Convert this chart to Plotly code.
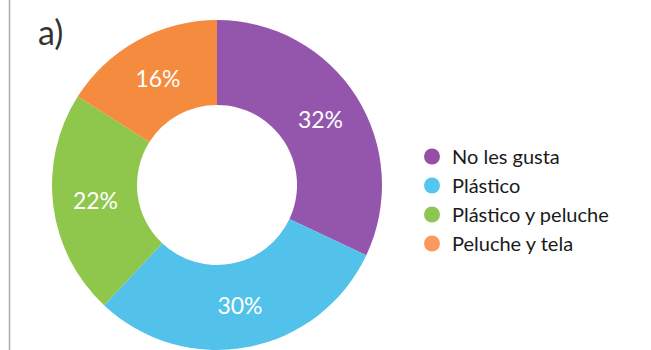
import plotly.graph_objects as go

categories = ["No les gusta", "Plástico", "Plástico y peluche", "Peluche y tela"]
values = [32, 30, 22, 16]
slice_colors = ["#9455ad", "#52c2ea", "#8fc74d", "#f58b3e"]
legend_colors = ["#9550a6", "#55c6ee", "#8dc653", "#f99a5c"]
panel_label = "a)"

FONT = "Lato, 'Open Sans', sans-serif"

fig = go.Figure()
fig.add_trace(go.Pie(
    labels=categories,
    values=values,
    hole=0.485,
    sort=False,
    direction="clockwise",
    rotation=0,
    marker=dict(colors=slice_colors, line=dict(width=0)),
    texttemplate="%{percent:.0%}",
    textposition="inside",
    insidetextorientation="horizontal",
    textfont=dict(color="white", size=23, family=FONT),
    showlegend=False,
    domain=dict(x=[52/651, 382/651], y=[0, 330/350]),
    hoverinfo="label+percent",
))

for name, col in zip(categories, legend_colors):
    fig.add_trace(go.Scatter(
        x=[None], y=[None], mode="markers", name=name,
        marker=dict(color=col, size=18, symbol="circle"),
        showlegend=True,
    ))

fig.update_layout(
    width=651, height=350,
    margin=dict(l=0, r=0, t=0, b=0),
    paper_bgcolor="white", plot_bgcolor="white",
    xaxis=dict(visible=False), yaxis=dict(visible=False),
    legend=dict(
        x=412/651, y=(350-200)/350, xanchor="left", yanchor="middle",
        font=dict(size=20, color="#1a1a1a", family=FONT),
        itemsizing="trace", tracegroupgap=0, bgcolor="rgba(0,0,0,0)",
    ),
    annotations=[dict(
        text=panel_label, x=50/651, y=(350-32)/350, xref="paper", yref="paper",
        xanchor="center", yanchor="middle", showarrow=False,
        font=dict(size=34, color="#333333", family=FONT),
    )],
    shapes=[dict(
        type="line", xref="paper", yref="paper",
        x0=9.5/651, x1=9.5/651, y0=0, y1=1,
        line=dict(color="#aaaaaa", width=1.5),
    )],
)

fig.write_html("out.html")
